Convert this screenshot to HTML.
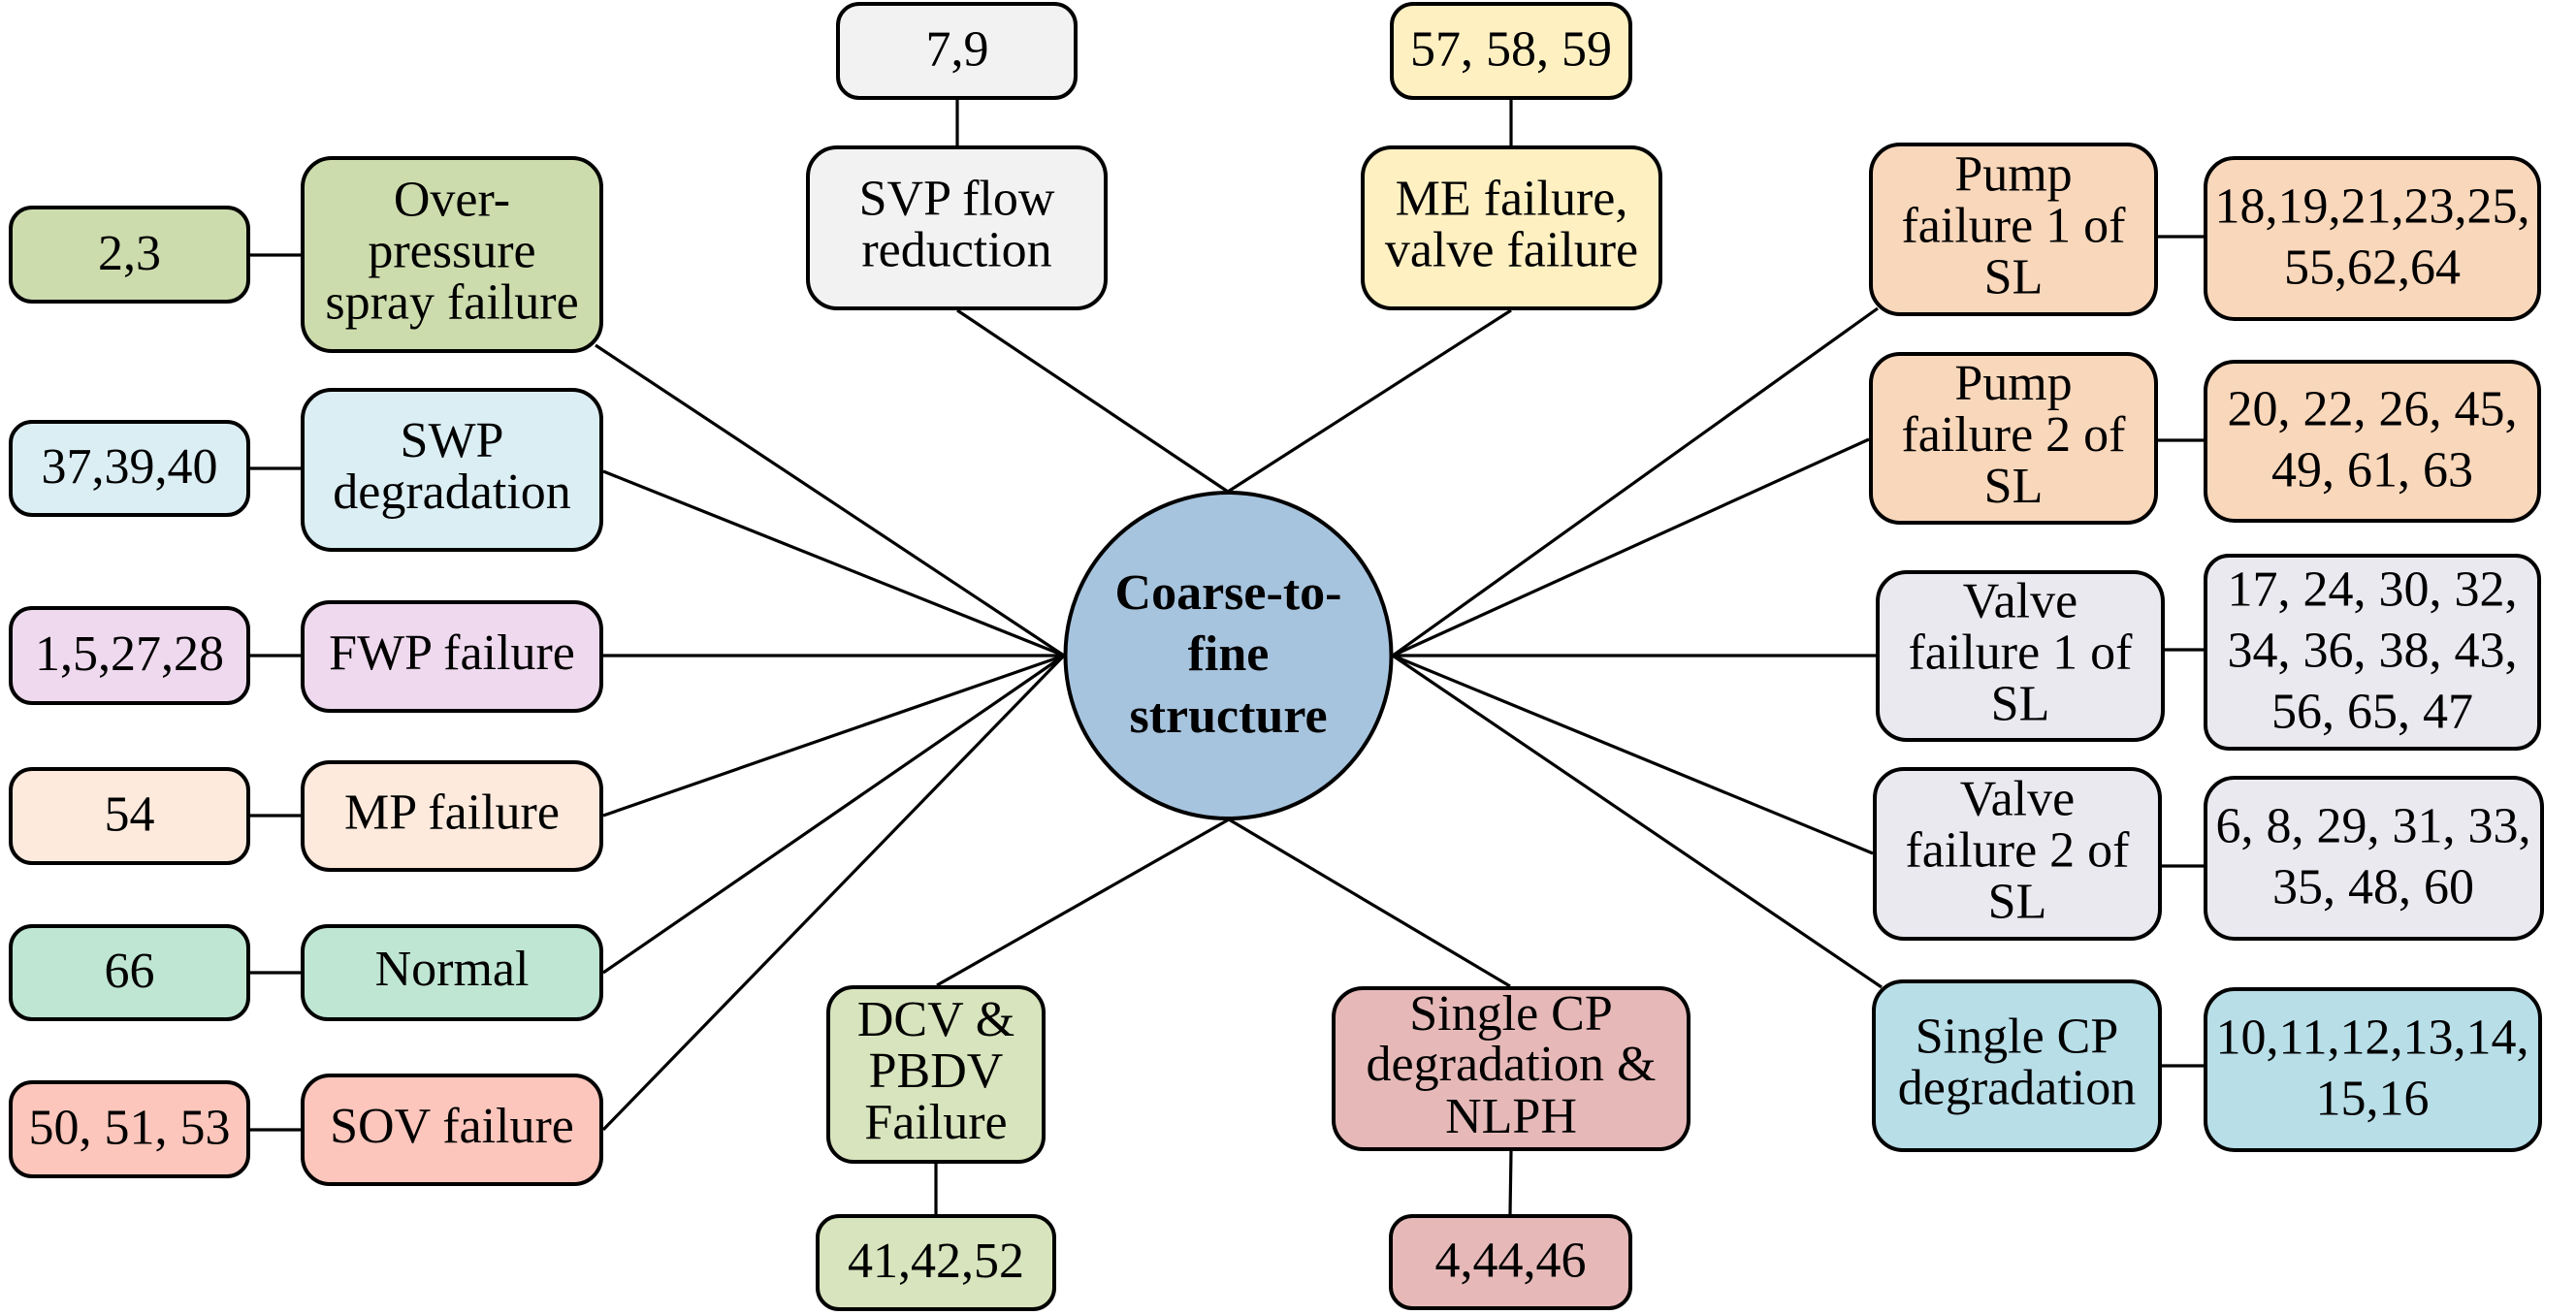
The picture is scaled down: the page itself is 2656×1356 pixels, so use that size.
<!DOCTYPE html>
<html><head><meta charset="utf-8"><style>
html,body{margin:0;padding:0;background:#fff;}
svg{display:block;}
text{font-family:"Liberation Serif","Times New Roman",serif;font-size:52px;fill:#000;text-anchor:middle;}
.b{font-weight:bold;}
</style></head><body>
<svg width="2656" height="1356" viewBox="0 0 2656 1356" xmlns="http://www.w3.org/2000/svg">
<g stroke="#000" stroke-width="3.2" fill="none">
<!-- left spokes -->
<line x1="1097" y1="676" x2="614" y2="356"/>
<line x1="1097" y1="676" x2="622" y2="486"/>
<line x1="1097" y1="676" x2="622" y2="676"/>
<line x1="1097" y1="676" x2="622" y2="841"/>
<line x1="1097" y1="676" x2="622" y2="1003"/>
<line x1="1097" y1="676" x2="622" y2="1165"/>
<!-- left connectors -->
<line x1="258" y1="263" x2="310" y2="263"/>
<line x1="258" y1="483" x2="310" y2="483"/>
<line x1="258" y1="676" x2="310" y2="676"/>
<line x1="258" y1="841" x2="310" y2="841"/>
<line x1="258" y1="1003" x2="310" y2="1003"/>
<line x1="258" y1="1165" x2="310" y2="1165"/>
<!-- top -->
<line x1="1266" y1="507" x2="987" y2="320"/>
<line x1="1266" y1="507" x2="1558" y2="320"/>
<line x1="987" y1="103" x2="987" y2="150"/>
<line x1="1558" y1="103" x2="1558" y2="150"/>
<!-- bottom -->
<line x1="1267" y1="845" x2="966" y2="1016"/>
<line x1="1267" y1="845" x2="1557" y2="1017"/>
<line x1="965" y1="1200" x2="965" y2="1252"/>
<line x1="1558" y1="1187" x2="1557" y2="1252"/>
<!-- right spokes -->
<line x1="1436" y1="676" x2="1936" y2="318"/>
<line x1="1436" y1="676" x2="1927" y2="453"/>
<line x1="1436" y1="676" x2="1934" y2="676"/>
<line x1="1436" y1="676" x2="1931" y2="880"/>
<line x1="1436" y1="676" x2="1940" y2="1018"/>
<!-- right connectors -->
<line x1="2225" y1="244" x2="2272" y2="244"/>
<line x1="2225" y1="454" x2="2272" y2="454"/>
<line x1="2232" y1="670" x2="2272" y2="670"/>
<line x1="2229" y1="893" x2="2272" y2="893"/>
<line x1="2229" y1="1099" x2="2272" y2="1099"/>
</g>

<g stroke="#000" stroke-width="4">
<!-- left numbers -->
<rect x="11" y="214" width="245" height="97" rx="22" fill="#cddcad"/>
<rect x="11" y="435" width="245" height="96" rx="22" fill="#dbeef4"/>
<rect x="11" y="627" width="245" height="98" rx="22" fill="#efd9ee"/>
<rect x="11" y="793" width="245" height="97" rx="22" fill="#fdeadd"/>
<rect x="11" y="955" width="245" height="96" rx="22" fill="#bfe6d3"/>
<rect x="11" y="1116" width="245" height="97" rx="22" fill="#fdc6bc"/>
<!-- left labels -->
<rect x="312" y="163" width="308" height="199" rx="30" fill="#cddcad"/>
<rect x="312" y="402" width="308" height="165" rx="30" fill="#dbeef4"/>
<rect x="312" y="621" width="308" height="112" rx="28" fill="#efd9ee"/>
<rect x="312" y="786" width="308" height="111" rx="28" fill="#fdeadd"/>
<rect x="312" y="955" width="308" height="96" rx="26" fill="#bfe6d3"/>
<rect x="312" y="1109" width="308" height="112" rx="28" fill="#fdc6bc"/>
<!-- top -->
<rect x="864" y="4" width="245" height="97" rx="22" fill="#f2f2f2"/>
<rect x="833" y="152" width="307" height="166" rx="30" fill="#f2f2f2"/>
<rect x="1435" y="4" width="246" height="97" rx="22" fill="#fff0c2"/>
<rect x="1405" y="152" width="307" height="166" rx="30" fill="#fff0c2"/>
<!-- bottom -->
<rect x="854" y="1018" width="222" height="180" rx="26" fill="#d7e4bd"/>
<rect x="843" y="1254" width="244" height="96" rx="22" fill="#d7e4bd"/>
<rect x="1375" y="1019" width="366" height="166" rx="30" fill="#e6b9b8"/>
<rect x="1434" y="1254" width="247" height="95" rx="22" fill="#e6b9b8"/>
<!-- right labels -->
<rect x="1929" y="149" width="294" height="175" rx="30" fill="#f9d7bb"/>
<rect x="1929" y="365" width="294" height="174" rx="30" fill="#f9d7bb"/>
<rect x="1936" y="590" width="294" height="173" rx="30" fill="#ebe9f0"/>
<rect x="1933" y="793" width="294" height="175" rx="30" fill="#ebe9f0"/>
<rect x="1932" y="1012" width="295" height="174" rx="30" fill="#b8dee8"/>
<!-- right numbers -->
<rect x="2274" y="163" width="344" height="166" rx="30" fill="#f9d7bb"/>
<rect x="2274" y="373" width="344" height="164" rx="30" fill="#f9d7bb"/>
<rect x="2274" y="573" width="344" height="199" rx="24" fill="#ebe9f0"/>
<rect x="2274" y="802" width="347" height="166" rx="30" fill="#ebe9f0"/>
<rect x="2274" y="1020" width="345" height="166" rx="30" fill="#b8dee8"/>
<!-- circle -->
<circle cx="1266.5" cy="676" r="168" fill="#a7c4de"/>
</g>

<!-- text -->
<text x="133.5" y="278">2,3</text>
<text x="133.5" y="498">37,39,40</text>
<text x="133.5" y="691">1,5,27,28</text>
<text x="133.5" y="856.5">54</text>
<text x="133.5" y="1018">66</text>
<text x="133.5" y="1179.5">50, 51, 53</text>

<text x="466"><tspan x="466" y="222.5">Over-</tspan><tspan x="466" y="275.5">pressure</tspan><tspan x="466" y="328.5">spray failure</tspan></text>
<text x="466"><tspan x="466" y="471">SWP</tspan><tspan x="466" y="524">degradation</tspan></text>
<text x="466" y="690">FWP failure</text>
<text x="466" y="854.5">MP failure</text>
<text x="466" y="1016">Normal</text>
<text x="466" y="1178">SOV failure</text>

<text x="987" y="67.5">7,9</text>
<text x="986.5"><tspan x="986.5" y="221.5">SVP flow</tspan><tspan x="986.5" y="274.5">reduction</tspan></text>
<text x="1558" y="67.5">57, 58, 59</text>
<text x="1558.5"><tspan x="1558.5" y="221.5">ME failure,</tspan><tspan x="1558.5" y="274.5">valve failure</tspan></text>

<text x="965"><tspan x="965" y="1068">DCV &amp;</tspan><tspan x="965" y="1121">PBDV</tspan><tspan x="965" y="1174">Failure</tspan></text>
<text x="965" y="1317">41,42,52</text>
<text x="1558"><tspan x="1558" y="1062">Single CP</tspan><tspan x="1558" y="1114">degradation &amp;</tspan><tspan x="1558" y="1168">NLPH</tspan></text>
<text x="1557.5" y="1316.5">4,44,46</text>

<text class="b"><tspan x="1266.5" y="628">Coarse-to-</tspan><tspan x="1266.5" y="691">fine</tspan><tspan x="1266.5" y="755">structure</tspan></text>

<text><tspan x="2076" y="196.5">Pump</tspan><tspan x="2076" y="249.5">failure 1 of</tspan><tspan x="2076" y="302.5">SL</tspan></text>
<text><tspan x="2076" y="412">Pump</tspan><tspan x="2076" y="465">failure 2 of</tspan><tspan x="2076" y="518">SL</tspan></text>
<text><tspan x="2083" y="636.5">Valve</tspan><tspan x="2083" y="689.5">failure 1 of</tspan><tspan x="2083" y="742.5">SL</tspan></text>
<text><tspan x="2080" y="840.5">Valve</tspan><tspan x="2080" y="893.5">failure 2 of</tspan><tspan x="2080" y="946.5">SL</tspan></text>
<text><tspan x="2079.5" y="1085.5">Single CP</tspan><tspan x="2079.5" y="1138.5">degradation</tspan></text>

<text><tspan x="2446" y="229.5">18,19,21,23,25,</tspan><tspan x="2446" y="292.5">55,62,64</tspan></text>
<text><tspan x="2446" y="438.5">20, 22, 26, 45,</tspan><tspan x="2446" y="501.5">49, 61, 63</tspan></text>
<text><tspan x="2446" y="624.5">17, 24, 30, 32,</tspan><tspan x="2446" y="687.5">34, 36, 38, 43,</tspan><tspan x="2446" y="750.5">56, 65, 47</tspan></text>
<text><tspan x="2447" y="868.5">6, 8, 29, 31, 33,</tspan><tspan x="2447" y="931.5">35, 48, 60</tspan></text>
<text><tspan x="2446" y="1086.5">10,11,12,13,14,</tspan><tspan x="2446" y="1149.5">15,16</tspan></text>
</svg>
</body></html>
